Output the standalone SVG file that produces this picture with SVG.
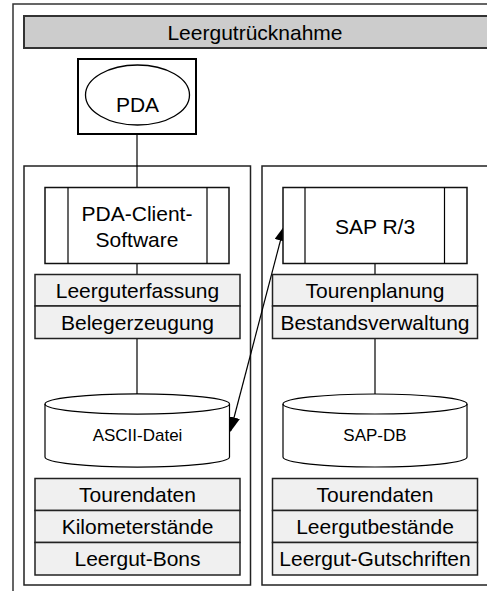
<svg xmlns="http://www.w3.org/2000/svg" width="487" height="591" viewBox="0 0 487 591">
<style>
text{font-family:"Liberation Sans",Arial,sans-serif;fill:#000;text-anchor:middle}
.t{font-size:21px}
.r{font-size:21px}
.s{font-size:17px}
.row{fill:#f0f0f0;stroke:#222;stroke-width:1.5}
.box{fill:#fff;stroke:#111;stroke-width:1.5}
.panel{fill:none;stroke:#222;stroke-width:1.5}
.ln{stroke:#000;stroke-width:1.2;fill:none}
</style>
<defs>
<marker id="ah" markerWidth="15" markerHeight="12" refX="14" refY="6" orient="auto-start-reverse" markerUnits="userSpaceOnUse">
<path d="M0,0 L15,6 L0,12 Z" fill="#000"/>
</marker>
</defs>
<rect x="13" y="4" width="490" height="600" fill="#fff" stroke="#333" stroke-width="1.5"/>
<g id="title">
<rect x="24" y="16" width="480" height="32" fill="#cccccc" stroke="#333" stroke-width="2"/>
<text class="t" x="255" y="39.5">Leergutrücknahme</text>
</g>
<g id="panel-left"><rect class="panel" x="24" y="166" width="226.5" height="419"/></g>
<g id="panel-right"><rect class="panel" x="262" y="166" width="240" height="419"/></g>
<g id="connectors">
<line class="ln" x1="137" y1="134" x2="137" y2="187"/>
<line class="ln" x1="137" y1="263" x2="137" y2="274"/>
<line class="ln" x1="137" y1="338" x2="137" y2="394"/>
<line class="ln" x1="375" y1="263" x2="375" y2="274" stroke-width="2"/>
<line class="ln" x1="375" y1="338" x2="375" y2="394" stroke-width="2"/>
<line class="ln" x1="230.5" y1="431" x2="284" y2="227" marker-start="url(#ah)" marker-end="url(#ah)"/>
</g>
<g id="pda">
<rect x="78" y="59" width="118" height="75" fill="#fff" stroke="#000" stroke-width="2"/>
<ellipse cx="137.5" cy="95" rx="52" ry="30" fill="#fff" stroke="#000" stroke-width="1.3"/>
<text class="r" x="137.5" y="111.5">PDA</text>
</g>
<g id="pda-client">
<rect class="box" x="45" y="187.5" width="184" height="76"/>
<line class="ln" x1="68" y1="187.5" x2="68" y2="263.5"/>
<line class="ln" x1="207" y1="187.5" x2="207" y2="263.5"/>
<text class="r" x="137" y="221">PDA-Client-</text>
<text class="r" x="137" y="247">Software</text>
</g>
<g id="left-funcs">
<rect class="row" x="35" y="274.5" width="205" height="31.5"/>
<rect class="row" x="35" y="306" width="205" height="32.5"/>
<text class="r" x="137.5" y="297.5">Leerguterfassung</text>
<text class="r" x="137.5" y="329.5">Belegerzeugung</text>
</g>
<g id="ascii">
<path d="M45,404 A92,10 0 0 1 229.5,404 L229.5,457 A92,10 0 0 1 45,457 Z" fill="#fff" stroke="#000" stroke-width="1.2"/>
<path d="M45,404 A92,10 0 0 0 229.5,404" fill="none" stroke="#000" stroke-width="1.2"/>
<text class="s" x="137.5" y="441">ASCII-Datei</text>
</g>
<g id="left-data">
<rect class="row" x="35" y="478.5" width="205" height="32"/>
<rect class="row" x="35" y="510.5" width="205" height="32"/>
<rect class="row" x="35" y="542.5" width="205" height="32.5"/>
<text class="r" x="137.5" y="502">Tourendaten</text>
<text class="r" x="137.5" y="534">Kilometerstände</text>
<text class="r" x="137.5" y="566">Leergut-Bons</text>
</g>
<g id="sap">
<rect class="box" x="283" y="187.5" width="184" height="76"/>
<line class="ln" x1="305" y1="187.5" x2="305" y2="263.5"/>
<line class="ln" x1="444.5" y1="187.5" x2="444.5" y2="263.5"/>
<text class="r" x="375" y="234">SAP R/3</text>
</g>
<g id="right-funcs">
<rect class="row" x="272.5" y="274.5" width="205" height="31.5"/>
<rect class="row" x="272.5" y="306" width="205" height="32.5"/>
<text class="r" x="375" y="297.5">Tourenplanung</text>
<text class="r" x="375" y="329.5">Bestandsverwaltung</text>
</g>
<g id="sapdb">
<path d="M283,404 A92,10 0 0 1 467,404 L467,457 A92,10 0 0 1 283,457 Z" fill="#fff" stroke="#000" stroke-width="1.2"/>
<path d="M283,404 A92,10 0 0 0 467,404" fill="none" stroke="#000" stroke-width="1.2"/>
<text class="s" x="375" y="441">SAP-DB</text>
</g>
<g id="right-data">
<rect class="row" x="272.5" y="478.5" width="205" height="32"/>
<rect class="row" x="272.5" y="510.5" width="205" height="32"/>
<rect class="row" x="272.5" y="542.5" width="205" height="32.5"/>
<text class="r" x="375" y="502">Tourendaten</text>
<text class="r" x="375" y="534">Leergutbestände</text>
<text class="r" x="375" y="566">Leergut-Gutschriften</text>
</g>
</svg>
